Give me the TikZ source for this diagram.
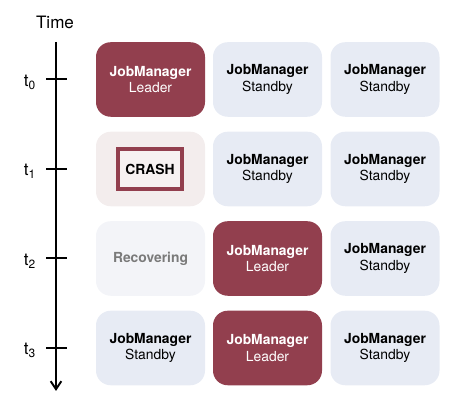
\documentclass[tikz,border=0pt]{standalone}
\usepackage{fontspec}
\setmainfont{TeX Gyre Heros}
\usetikzlibrary{arrows.meta}

\definecolor{leaderred}{HTML}{923F4E}
\definecolor{standbyblue}{HTML}{E7EBF4}
\definecolor{crashpink}{HTML}{F3EDED}
\definecolor{crashinner}{HTML}{F6F1F1}
\definecolor{recovergrey}{HTML}{F3F4F8}
\definecolor{recovertext}{HTML}{7A7A7A}

\tikzset{
  cell/.style={rounded corners=11pt,minimum width=81.75pt,minimum height=55.9pt,
    inner sep=0pt,align=center,font=\fontsize{10.4}{12.5}\selectfont},
  leader/.style={cell,fill=leaderred,text=white},
  standby/.style={cell,fill=standbyblue,text=black},
  crashed/.style={cell,fill=crashpink},
  recovering/.style={cell,fill=recovergrey,text=recovertext},
  crashbox/.style={draw=leaderred,line width=3pt,fill=crashinner,minimum width=48pt,
    minimum height=30pt,inner sep=0pt,font=\fontsize{10.4}{12.5}\selectfont\bfseries},
  timelabel/.style={font=\fontsize{12.8}{14}\selectfont,inner sep=1pt},
}

\begin{document}
\begin{tikzpicture}[x=0.75pt,y=-0.75pt,line width=1.5pt]
\useasboundingbox (0,0) rectangle (472,402);
% time axis
\node[timelabel] (time) at (55,22) {Time};
\coordinate (axistop) at (56,42);
\coordinate (axisend) at (56,391);
\draw[-{Straight Barb[length=6pt,width=8pt]}] (axistop) -- (axisend);
\draw (46,79.5)--(67,79.5);
\draw (46,169)--(67,169);
\draw (46,258.5)--(67,258.5);
\draw (46,348)--(67,348);
\node[timelabel] (t0) at (30,82) {t\textsubscript{0}};
\node[timelabel] (t1) at (30,171.5) {t\textsubscript{1}};
\node[timelabel] (t2) at (30,261) {t\textsubscript{2}};
\node[timelabel] (t3) at (30,350.5) {t\textsubscript{3}};
% t0
\node[leader] (jmAzero) at (150.5,79.5) {\textbf{JobManager}\\Leader};
\node[standby] (jmBzero) at (267.5,79.5) {\textbf{JobManager}\\Standby};
\node[standby] (jmCzero) at (385,79.5) {\textbf{JobManager}\\Standby};
% t1
\node[crashed] (jmAone) at (150.5,169) {};
\node[crashbox] (crash) at (150,169) {CRASH};
\node[standby] (jmBone) at (267.5,169) {\textbf{JobManager}\\Standby};
\node[standby] (jmCone) at (385,169) {\textbf{JobManager}\\Standby};
% t2
\node[recovering] (jmAtwo) at (150.5,258.5) {\textbf{Recovering}};
\node[leader] (jmBtwo) at (267.5,258.5) {\textbf{JobManager}\\Leader};
\node[standby] (jmCtwo) at (385,258.5) {\textbf{JobManager}\\Standby};
% t3
\node[standby] (jmAthree) at (150.5,348) {\textbf{JobManager}\\Standby};
\node[leader] (jmBthree) at (267.5,348) {\textbf{JobManager}\\Leader};
\node[standby] (jmCthree) at (385,348) {\textbf{JobManager}\\Standby};
\end{tikzpicture}
\end{document}
